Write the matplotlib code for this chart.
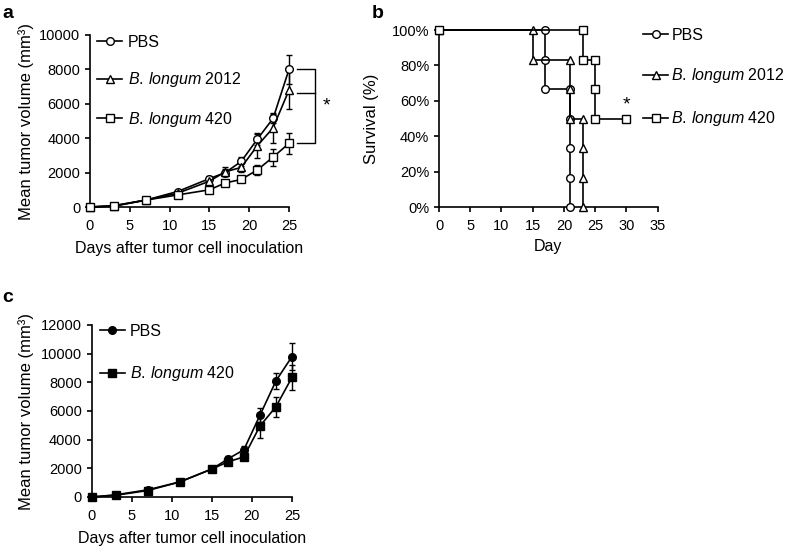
import matplotlib
matplotlib.use("Agg")
import matplotlib.pyplot as plt
from matplotlib.lines import Line2D
import numpy as np

plt.rcParams['font.family'] = ['Liberation Sans', 'DejaVu Sans']
plt.rcParams['mathtext.fontset'] = 'custom'
plt.rcParams['mathtext.rm'] = 'Liberation Sans'
plt.rcParams['mathtext.it'] = 'Liberation Sans:italic'

# ---------------- Data ----------------
days = [0, 3, 7, 11, 15, 17, 19, 21, 23, 25]

# Panel a
a_pbs = [0, 60, 400, 900, 1650, 2000, 2650, 3930, 5150, 8000]
a_pbs_err = [0, 20, 60, 100, 150, 200, 250, 350, 250, 850]
a_2012 = [0, 50, 400, 800, 1500, 2050, 2300, 3550, 4600, 6800]
a_2012_err = [0, 20, 60, 100, 150, 250, 250, 720, 870, 1100]
a_420 = [0, 80, 400, 700, 1000, 1400, 1600, 2150, 2900, 3700]
a_420_err = [0, 20, 60, 80, 100, 150, 150, 300, 500, 600]

# Panel b (Kaplan-Meier style step points, %)
b_pbs_day = [0, 17, 17, 17, 21, 21, 21, 21, 21]
b_pbs_surv = [100, 100, 83.3, 66.7, 66.7, 50, 33.3, 16.7, 0]
b_2012_day = [0, 15, 15, 21, 21, 21, 23, 23, 23, 23]
b_2012_surv = [100, 100, 83.3, 83.3, 66.7, 50, 50, 33.3, 16.7, 0]
b_420_day = [0, 23, 23, 25, 25, 25, 30]
b_420_surv = [100, 100, 83.3, 83.3, 66.7, 50, 50]
b_yticklabels = ['0%', '20%', '40%', '60%', '80%', '100%']

# Panel c
c_pbs = [0, 150, 500, 1050, 1950, 2650, 3300, 5700, 8100, 9800]
c_pbs_err = [0, 30, 80, 120, 150, 200, 250, 500, 550, 950]
c_420 = [0, 120, 450, 1050, 1950, 2450, 2800, 4950, 6300, 8350]
c_420_err = [0, 30, 80, 120, 150, 200, 250, 850, 700, 850]

labels_a = ['PBS', r'$\it{B.}\,\it{longum}$ 2012', r'$\it{B.}\,\it{longum}$ 420']
labels_c = ['PBS', r'$\it{B.}\,\it{longum}$ 420']

# ---------------- Figure ----------------
W, H = 787, 551
fig = plt.figure(figsize=(W / 100, H / 100), dpi=100)


def ax_px(l, r, t, b):
    return fig.add_axes([l / W, 1 - b / H, (r - l) / W, (b - t) / H])


TICK_FS = 10.5
LAB_FS = 11.5
YLAB_FS = 12
LEG_FS = 11.5
LW = 1.2
MS = 5.5


def style(ax):
    for s in ['top', 'right']:
        ax.spines[s].set_visible(False)
    for s in ['left', 'bottom']:
        ax.spines[s].set_linewidth(LW)
    ax.tick_params(direction='out', length=3.5, width=LW, labelsize=TICK_FS, pad=3.5)
    ax.tick_params(axis='x', pad=5)


def eplot(ax, x, y, e, marker, fill, label):
    ax.errorbar(x, y, yerr=e, color='black', lw=LW, marker=marker, ms=MS,
                mfc=fill, mec='black', mew=1.0, capsize=2.0, elinewidth=1.0,
                capthick=1.0, label=label, clip_on=False, zorder=3)


def handles(markers, fill):
    return [Line2D([], [], color='black', lw=LW, marker=m, ms=MS, mfc=fill, mec='black')
            for m in markers]


# ----- Panel a -----
axa = ax_px(90, 289, 35, 207)
style(axa)
eplot(axa, days, a_pbs, a_pbs_err, 'o', 'white', labels_a[0])
eplot(axa, days, a_2012, a_2012_err, '^', 'white', labels_a[1])
eplot(axa, days, a_420, a_420_err, 's', 'white', labels_a[2])
axa.set_xlim(0, 25)
axa.set_ylim(0, 10000)
axa.set_xticks([0, 5, 10, 15, 20, 25])
axa.set_yticks([0, 2000, 4000, 6000, 8000, 10000])
axa.set_xlabel('Days after tumor cell inoculation', fontsize=LAB_FS, labelpad=6)
axa.set_ylabel('Mean tumor volume (mm³)', fontsize=YLAB_FS)
axa.yaxis.set_label_coords((34 - 90) / 199, 0.5)
axa.legend(handles(['o', '^', 's'], 'white'), labels_a, loc='upper left',
           bbox_to_anchor=(0.005, 1.04), frameon=False,
           fontsize=LEG_FS, handlelength=1.55, handletextpad=0.35, labelspacing=1.3,
           borderaxespad=0)
# significance bracket
bx0, bx1 = 26.0, 28.25
axa.plot([bx0, bx1, bx1, bx0], [a_pbs[-1], a_pbs[-1], a_420[-1], a_420[-1]],
         color='black', lw=1.0, clip_on=False)
axa.plot([bx0, bx1], [6650, 6650], color='black', lw=1.0, clip_on=False)
axa.text(29.2, 5850, '*', fontsize=14, ha='left', va='center')

# ----- Panel b -----
axb = ax_px(439, 657.7, 30, 207.3)
style(axb)
kw = dict(color='black', lw=LW, ms=MS, mec='black', mew=1.0, mfc='white', clip_on=False)
axb.plot(b_pbs_day, b_pbs_surv, marker='o', zorder=3, **kw)
axb.plot(b_2012_day, b_2012_surv, marker='^', zorder=3, **kw)
axb.plot(b_420_day, b_420_surv, marker='s', zorder=4, **kw)
axb.set_xlim(0, 35)
axb.set_ylim(0, 100)
axb.set_xticks([0, 5, 10, 15, 20, 25, 30, 35])
axb.set_yticks([0, 20, 40, 60, 80, 100])
axb.set_yticklabels(b_yticklabels)
axb.set_xlabel('Day', fontsize=LAB_FS, labelpad=4.5)
axb.set_ylabel('Survival (%)', fontsize=YLAB_FS)
axb.yaxis.set_label_coords((379 - 439) / 218.7, 0.5)
axb.text(30, 53, '*', fontsize=14, ha='center', va='bottom')
axb.legend(handles(['o', '^', 's'], 'white'), labels_a, loc='upper left',
           bbox_to_anchor=(0.905, 1.05), frameon=False,
           fontsize=LEG_FS, handlelength=1.55, handletextpad=0.2, labelspacing=1.5,
           borderaxespad=0)

# ----- Panel c -----
axc = ax_px(91.5, 292, 325, 497)
style(axc)
eplot(axc, days, c_pbs, c_pbs_err, 'o', 'black', labels_c[0])
eplot(axc, days, c_420, c_420_err, 's', 'black', labels_c[1])
axc.set_xlim(0, 25)
axc.set_ylim(0, 12000)
axc.set_xticks([0, 5, 10, 15, 20, 25])
axc.set_yticks([0, 2000, 4000, 6000, 8000, 10000, 12000])
axc.set_xlabel('Days after tumor cell inoculation', fontsize=LAB_FS, labelpad=6)
axc.set_ylabel('Mean tumor volume (mm³)', fontsize=YLAB_FS)
axc.yaxis.set_label_coords((34 - 91.5) / 200.5, 0.5)
axc.legend(handles(['o', 's'], 'black'), labels_c, loc='upper left',
           bbox_to_anchor=(0.01, 1.045), frameon=False,
           fontsize=LEG_FS, handlelength=1.55, handletextpad=0.35, labelspacing=1.6,
           borderaxespad=0)

# panel letters
fig.text(2 / W, 1 - 14 / H, 'a', fontsize=14, fontweight='bold', va='center')
fig.text(372 / W, 1 - 14 / H, 'b', fontsize=14, fontweight='bold', va='center')
fig.text(2 / W, 1 - 298 / H, 'c', fontsize=14, fontweight='bold', va='center')

fig.savefig('out.png', dpi=100)
